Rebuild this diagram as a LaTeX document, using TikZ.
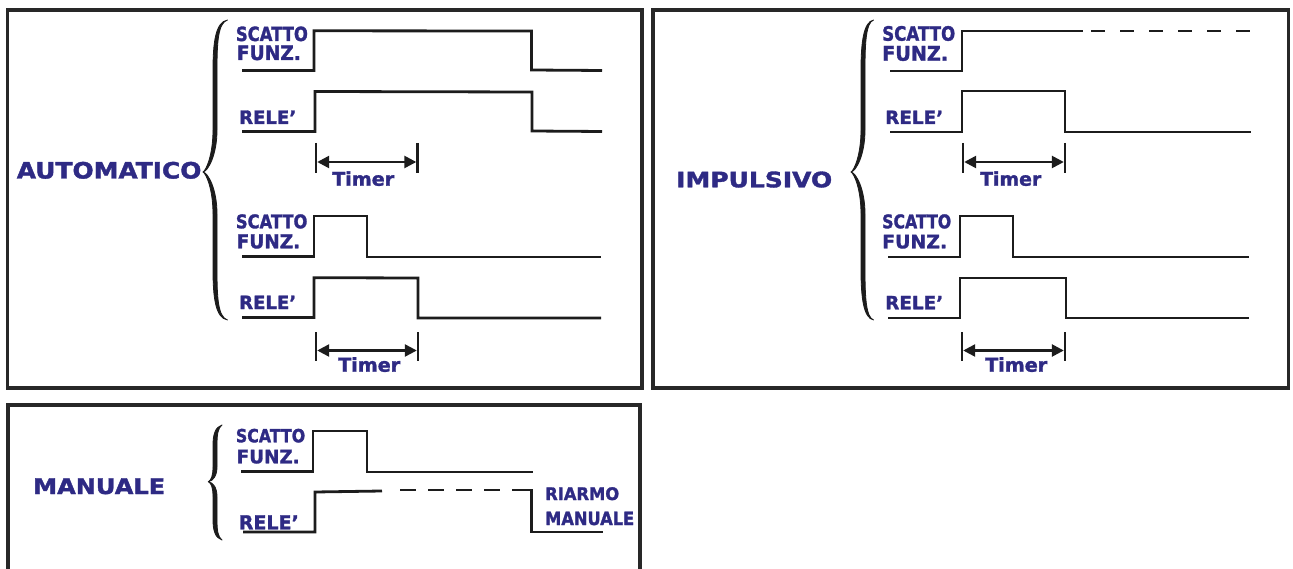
\documentclass[tikz,border=0pt]{standalone}
\usepackage{fontspec}
\setmainfont{DejaVu Sans}
\newfontfamily\heavy{DejaVu Sans Bold}[FakeBold=1.6]
\usetikzlibrary{arrows.meta}
\definecolor{lbl}{RGB}{46,42,132}
\definecolor{ink}{RGB}{28,28,28}
\definecolor{framecol}{RGB}{40,40,40}
\newcommand\lb[3]{\resizebox{#1pt}{#2pt}{\heavy #3}}
% #1 xtip #2 ytip #3 ytop #4 ybot #5 xbody(left) #6 xend #7 Rend #8 Rtip
\newcommand\curlybrace[8]{%
\filldraw[ink, line width=0.8pt, line join=round]
 (#6,#3) .. controls ({#5+2.5},{#3+2}) and (#5,{#3+0.45*#7}) .. (#5,{#3+#7})
 -- (#5,{#2-#8}) .. controls (#5,{#2-0.4*#8}) and ({#1+3},{#2-1.5}) .. (#1,#2)
 .. controls ({#1+3},{#2+1.5}) and (#5,{#2+0.4*#8}) .. (#5,{#2+#8})
 -- (#5,{#4-#7}) .. controls (#5,{#4-0.45*#7}) and ({#5+2.5},{#4-2}) .. (#6,#4)
 .. controls ({#5+5},{#4-3}) and ({#5+4},{#4-0.45*#7}) .. ({#5+4},{#4-#7})
 -- ({#5+4},{#2+#8}) .. controls ({#5+4},{#2+0.4*#8}) and ({#1+5},{#2+0.8}) .. (#1,#2)
 .. controls ({#1+5},{#2-0.8}) and ({#5+4},{#2-0.4*#8}) .. ({#5+4},{#2-#8})
 -- ({#5+4},{#3+#7}) .. controls ({#5+4},{#3+0.45*#7}) and ({#5+5},{#3+3}) .. (#6,#3) -- cycle;}
\begin{document}
\begin{tikzpicture}[x=1pt,y=-1pt,
  boxframe/.style={draw=framecol, line width=3.2pt},
  sig/.style={draw=ink, line width=2.8pt, line join=miter},
  dsigA/.style={draw=ink, line width=2.8pt, dash pattern=on 14pt off 15pt},
  dsigB/.style={draw=ink, line width=2.8pt, dash pattern=on 16pt off 12pt},
  ticks/.style={draw=ink, line width=2.5pt},
  dim/.style={draw=ink, line width=2.5pt, {Triangle[length=12pt,width=12pt]}-{Triangle[length=12pt,width=12pt]}},
  txt/.style={inner sep=0pt, anchor=base west, text=lbl}]
\useasboundingbox (0,0) rectangle (1293,569);
\clip (0,0) rectangle (1293,569);
\fill[white] (0,0) rectangle (1293,569);

% frames
\draw[boxframe] (7.5,10) rectangle (642,388);
\draw[boxframe] (653,10) rectangle (1288.5,388);
\draw[boxframe] (8,405) rectangle (640,600);

% ================= AUTOMATICO =================
\node[txt] (autoT) at (16.6,178.5) {\lb{184.6}{16.7}{AUTOMATICO}};
\curlybrace{203}{172}{20}{320}{213}{227.5}{50}{42}
\node[txt] (a-sc1) at (235.7,41) {\lb{72}{14.5}{SCATTO}};
\node[txt] (a-fu1) at (236.7,60) {\lb{64}{14.5}{FUNZ.}};
\node[txt] (a-re1) at (239,124) {\lb{57}{13.5}{RELE’}};
\node[txt] (a-ti1) at (332,185.7) {\lb{62}{14.3}{Timer}};
\node[txt] (a-sc2) at (235.7,228.3) {\lb{71.5}{14}{SCATTO}};
\node[txt] (a-fu2) at (236.5,248.3) {\lb{63.5}{14}{FUNZ.}};
\node[txt] (a-re2) at (239,309) {\lb{57}{13.3}{RELE’}};
\node[txt] (a-ti2) at (338,371.7) {\lb{62}{14.5}{Timer}};

\draw[sig] (242,70.5) -- (314,70.5) -- (314,30.8) -- (531.5,31) -- (531.5,70) -- (602,70.5);
\draw[sig] (242,131.5) -- (315,131.5) -- (315,91.5) -- (532,92) -- (532,131) -- (602,131.5);
\draw[ticks] (316,143) -- (316,173) (417.5,143) -- (417.5,173);
\coordinate (a-d1l) at (317.2,162); \coordinate (a-d1r) at (416.3,162);
\draw[dim] (a-d1l) -- (a-d1r);

\draw[sig] (242,256.5) -- (314,256.5) -- (314,216) -- (367,216) -- (367,257) -- (601,257);
\draw[sig] (242,317.5) -- (314,317.5) -- (314,277.7) -- (418,278) -- (418,318) -- (601,318);
\draw[ticks] (316,332) -- (316,361) (418,332) -- (418,361);
\coordinate (a-d2l) at (317.2,350.5); \coordinate (a-d2r) at (416.8,350.5);
\draw[dim] (a-d2l) -- (a-d2r);

% ================= IMPULSIVO =================
\node[txt] (impT) at (676,187.3) {\lb{156}{15.8}{IMPULSIVO}};
\curlybrace{851}{172}{20}{320}{861}{873.5}{50}{42}
\node[txt] (i-sc1) at (882,40.7) {\lb{73}{14.7}{SCATTO}};
\node[txt] (i-fu1) at (882,60.7) {\lb{66}{14.7}{FUNZ.}};
\node[txt] (i-re1) at (885,124) {\lb{58}{13.3}{RELE’}};
\node[txt] (i-ti1) at (980,185.7) {\lb{61}{14.3}{Timer}};
\node[txt] (i-sc2) at (882,228.3) {\lb{69}{14}{SCATTO}};
\node[txt] (i-fu2) at (882,248.3) {\lb{65}{13.5}{FUNZ.}};
\node[txt] (i-re2) at (885,309.3) {\lb{58}{13.3}{RELE’}};
\node[txt] (i-ti2) at (985,371.7) {\lb{62}{14.5}{Timer}};

\draw[sig] (890,71) -- (962,71) -- (962,31) -- (1083,31);
\draw[dsigA] (1091,31) -- (1251,31);
\draw[sig] (890,132) -- (962,132) -- (962,91) -- (1065,91) -- (1065,132) -- (1251,132);
\draw[ticks] (963,143) -- (963,173) (1065,143) -- (1065,173);
\coordinate (i-d1l) at (964.2,162); \coordinate (i-d1r) at (1063.8,162);
\draw[dim] (i-d1l) -- (i-d1r);

\draw[sig] (888,257) -- (960,257) -- (960,216) -- (1013,216) -- (1013,257) -- (1249,257);
\draw[sig] (888,318) -- (960,318) -- (960,278) -- (1066,278) -- (1066,318) -- (1249,318);
\draw[ticks] (962,332) -- (962,361) (1065,332) -- (1065,361);
\coordinate (i-d2l) at (963.2,350.5); \coordinate (i-d2r) at (1063.8,350.5);
\draw[dim] (i-d2l) -- (i-d2r);

% ================= MANUALE =================
\node[txt] (manT) at (33,494) {\lb{132}{15.7}{MANUALE}};
\curlybrace{208.3}{481.7}{425}{540}{213}{222}{20}{15}
\node[txt] (m-sc) at (235.7,442.3) {\lb{69.3}{13.5}{SCATTO}};
\node[txt] (m-fu) at (236.5,463.3) {\lb{63}{13.5}{FUNZ.}};
\node[txt] (m-re) at (238.6,529.3) {\lb{60}{14}{RELE’}};
\node[txt] (m-ri) at (545,500) {\lb{74}{12.8}{RIARMO}};
\node[txt] (m-ma) at (545,525) {\lb{89}{13.3}{MANUALE}};

\draw[sig] (241,471.5) -- (313,471.5) -- (313,431) -- (367,431) -- (367,472) -- (533,472);
\draw[sig] (243,532) -- (315,532) -- (315,492) -- (382,491);
\draw[dsigB] (400,490) -- (531.5,490);
\draw[sig] (512,490) -- (531.5,490) -- (531.5,532) -- (603,532);
\end{tikzpicture}
\end{document}
